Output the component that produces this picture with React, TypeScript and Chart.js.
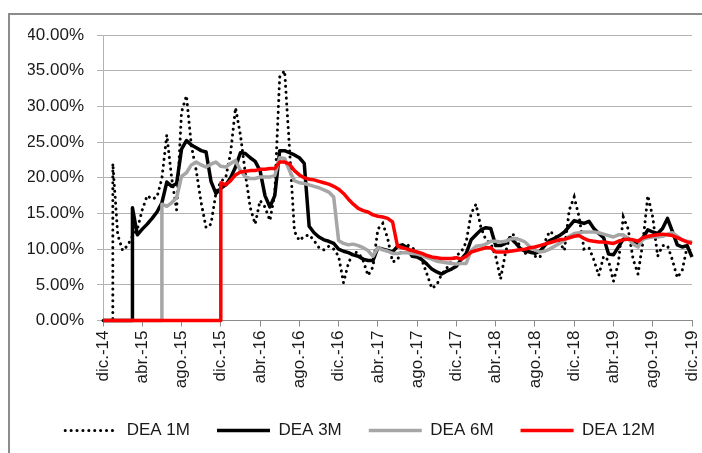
import React, { useEffect, useRef } from 'react';
import { Chart, registerables } from 'chart.js';

Chart.register(...registerables);

// Month index 0 = dic.-14, one tick every 4 months
const xLabels = ['dic.-14', 'abr.-15', 'ago.-15', 'dic.-15', 'abr.-16', 'ago.-16', 'dic.-16', 'abr.-17', 'ago.-17', 'dic.-17', 'abr.-18', 'ago.-18', 'dic.-18', 'abr.-19', 'ago.-19', 'dic.-19'];
const monthsPerTick = 4;
const stepMonths = 0.5;
const seriesNames = ['DEA 1M', 'DEA 3M', 'DEA 6M', 'DEA 12M'];

// First month with data for each series (0% before it)
const start1M = 1;
const start3M = 3;
const start6M = 6;
const start12M = 12;

// Values in %, every half month from the start month
const dea1M = [22.0, 12.0, 9.8, 10.5, 11.8, 12.8, 15.5, 17.5, 17.0, 17.3, 19.9, 26.0, 19.9, 15.5, 29.2, 31.5, 24.5, 21.0, 16.5, 13.0, 13.5, 17.8, 19.5, 20.0, 23.5, 29.8, 26.0, 20.6, 15.8, 13.5, 16.8, 15.9, 14.0, 17.8, 34.1, 35.0, 24.0, 12.5, 11.2, 11.8, 12.0, 11.2, 10.2, 9.9, 10.4, 10.0, 9.0, 5.3, 8.0, 9.6, 9.5, 8.4, 6.3, 7.5, 12.8, 13.6, 11.5, 8.2, 8.5, 10.1, 10.6, 10.2, 9.6, 8.4, 6.5, 4.5, 5.0, 6.5, 7.3, 8.3, 9.1, 9.6, 11.0, 15.0, 16.3, 13.0, 11.3, 10.8, 9.0, 5.8, 9.5, 12.0, 12.0, 10.2, 9.4, 9.6, 9.0, 8.8, 11.0, 12.5, 12.0, 11.0, 9.8, 15.5, 17.3, 14.5, 10.0, 10.2, 8.5, 6.3, 9.0, 8.4, 5.5, 8.0, 14.5, 12.8, 8.6, 6.5, 11.0, 17.5, 14.5, 9.0, 10.5, 10.5, 8.5, 6.0, 7.0, 10.3, 9.8];

const dea3M = [15.8, 12.0, 12.8, 13.5, 14.3, 15.2, 16.5, 19.4, 18.8, 19.2, 24.0, 25.2, 24.6, 24.2, 23.8, 23.6, 19.5, 17.8, 18.5, 19.0, 20.0, 21.5, 23.5, 23.4, 22.8, 22.3, 21.0, 17.5, 15.9, 17.5, 23.8, 23.8, 23.5, 23.2, 22.8, 22.0, 13.2, 12.3, 11.7, 11.3, 11.1, 10.8, 10.0, 9.7, 9.5, 9.2, 9.0, 8.6, 8.4, 8.4, 10.2, 10.0, 9.8, 9.6, 10.4, 10.6, 10.2, 9.0, 8.9, 8.5, 7.9, 7.2, 6.8, 6.5, 6.9, 7.2, 7.6, 8.6, 9.4, 11.3, 12.0, 12.7, 13.0, 12.9, 10.5, 10.5, 10.8, 11.6, 10.9, 10.1, 9.7, 9.6, 9.4, 9.7, 10.5, 11.2, 11.5, 11.9, 12.4, 13.2, 14.0, 13.8, 13.6, 13.9, 12.9, 12.2, 11.6, 9.3, 9.2, 10.3, 11.4, 11.5, 10.9, 10.6, 11.6, 12.7, 12.4, 12.2, 12.9, 14.3, 12.5, 10.6, 10.3, 10.5, 8.9];

const dea6M = [16.3, 16.0, 16.5, 17.2, 20.2, 20.7, 21.8, 22.2, 21.8, 21.5, 21.9, 22.2, 21.6, 21.5, 22.0, 22.4, 21.0, 20.1, 19.9, 19.9, 20.1, 20.1, 20.1, 20.3, 22.8, 22.7, 21.0, 19.6, 19.3, 19.2, 19.0, 18.8, 18.6, 18.3, 18.0, 17.3, 11.2, 10.8, 10.6, 10.7, 10.5, 10.2, 9.8, 9.0, 10.2, 9.9, 9.7, 9.4, 9.4, 9.5, 9.5, 9.4, 9.3, 9.1, 8.8, 8.6, 8.3, 8.2, 8.1, 8.0, 7.9, 8.0, 8.0, 9.8, 10.4, 10.5, 10.7, 11.1, 11.1, 11.0, 11.1, 11.4, 11.5, 11.3, 11.0, 10.3, 9.9, 9.6, 9.7, 10.0, 10.4, 10.8, 11.2, 11.8, 12.2, 12.3, 12.4, 12.4, 12.4, 12.3, 12.1, 11.9, 11.7, 12.0, 12.0, 11.5, 10.7, 10.3, 11.4, 11.6, 11.7, 11.7, 11.8, 12.1, 12.3, 11.8, 11.3, 11.1, 11.0];

const dea12M = [19.3, 19.0, 19.6, 20.4, 20.8, 20.9, 21.0, 21.0, 21.2, 21.2, 21.3, 21.3, 22.2, 22.2, 21.9, 21.0, 20.4, 20.0, 19.8, 19.7, 19.5, 19.3, 19.1, 18.8, 18.4, 17.8, 17.0, 16.3, 15.7, 15.4, 15.2, 14.8, 14.6, 14.5, 14.3, 13.8, 10.4, 10.2, 10.0, 9.8, 9.6, 9.4, 9.1, 8.9, 8.8, 8.7, 8.7, 8.7, 8.8, 8.6, 9.0, 9.6, 9.8, 10.0, 10.2, 10.2, 9.6, 9.6, 9.6, 9.7, 9.8, 9.9, 10.0, 10.2, 10.3, 10.5, 10.7, 10.9, 11.1, 11.3, 11.4, 11.6, 11.8, 11.9, 11.5, 11.2, 11.1, 11.0, 11.0, 10.9, 10.8, 11.1, 11.3, 11.4, 11.3, 11.1, 11.6, 11.8, 11.9, 12.0, 12.1, 12.0, 11.9, 11.6, 11.3, 11.0, 10.8];

function toPoints(start: number, values: number[]) {
  const pts: { x: number; y: number }[] = [
    { x: 0, y: 0 },
    { x: start, y: 0 },
  ];
  values.forEach((v, i) => pts.push({ x: start + i * stepMonths, y: v }));
  return pts;
}

const TEXT = '#1a1a1a';
const FONT = 'Liberation Sans';

export default function App() {
  const ref = useRef<HTMLCanvasElement>(null);

  useEffect(() => {
    if (!ref.current) return;
    const chart = new Chart(ref.current, {
      type: 'line',
      data: {
        datasets: [
          {
            label: seriesNames[0],
            data: toPoints(start1M, dea1M),
            borderColor: '#000000',
            backgroundColor: '#000000',
            borderWidth: 3,
            borderDash: [0.1, 5.8],
            borderCapStyle: 'round',
            pointRadius: 0,
            tension: 0,
            order: 4,
            clip: false,
          },
          {
            label: seriesNames[1],
            data: toPoints(start3M, dea3M),
            borderColor: '#000000',
            backgroundColor: '#000000',
            borderWidth: 3.5,
            borderJoinStyle: 'round',
            pointRadius: 0,
            tension: 0,
            order: 3,
            clip: false,
          },
          {
            label: seriesNames[2],
            data: toPoints(start6M, dea6M),
            borderColor: '#a6a6a6',
            backgroundColor: '#a6a6a6',
            borderWidth: 3.5,
            borderJoinStyle: 'round',
            pointRadius: 0,
            tension: 0,
            order: 2,
            clip: false,
          },
          {
            label: seriesNames[3],
            data: toPoints(start12M, dea12M),
            borderColor: '#ff0000',
            backgroundColor: '#ff0000',
            borderWidth: 3.5,
            borderJoinStyle: 'round',
            pointRadius: 0,
            tension: 0,
            order: 1,
            clip: false,
          },
        ],
      },
      options: {
        animation: false,
        responsive: false,
        devicePixelRatio: 1,
        layout: { padding: { left: 28, right: 10, top: 35, bottom: 4 } },
        plugins: {
          legend: {
            position: 'bottom',
            labels: {
              usePointStyle: true,
              pointStyle: 'line',
              pointStyleWidth: 53,
              padding: 27,
              color: TEXT,
              font: { size: 17, family: FONT },
              generateLabels: (c: any) =>
                c.data.datasets.map((ds: any, i: number) => ({
                  text: ds.label,
                  datasetIndex: i,
                  strokeStyle: ds.borderColor,
                  fillStyle: ds.borderColor,
                  lineWidth: ds.borderWidth,
                  lineDash: ds.borderDash || [],
                  lineCap: ds.borderCapStyle || 'butt',
                  pointStyle: 'line',
                  hidden: false,
                  fontColor: TEXT,
                })),
            },
          },
          tooltip: { enabled: false },
        },
        scales: {
          x: {
            type: 'linear',
            min: 0,
            max: (xLabels.length - 1) * monthsPerTick,
            afterBuildTicks: (s: any) => {
              s.ticks = xLabels.map((_, i) => ({ value: i * monthsPerTick }));
            },
            afterFit: (s: any) => {
              s.height = 74.5;
              s.paddingLeft = 0;
              s.paddingRight = 0;
            },
            ticks: {
              autoSkip: false,
              minRotation: 90,
              maxRotation: 90,
              padding: 4,
              color: TEXT,
              font: { size: 17, family: FONT },
              callback: (v: any) => xLabels[Math.round(Number(v) / monthsPerTick)],
            },
            grid: { drawOnChartArea: false, drawTicks: true, tickLength: 6, color: '#8c8c8c' },
            border: { color: '#8c8c8c', width: 1 },
          },
          y: {
            min: 0,
            max: 40,
            afterBuildTicks: (s: any) => {
              const t = [];
              for (let v = 0; v <= 40; v += 5) t.push({ value: v });
              s.ticks = t;
            },
            afterFit: (s: any) => {
              s.width = 75;
            },
            ticks: {
              padding: 13,
              color: TEXT,
              font: { size: 17, family: FONT },
              callback: (v: any) => Number(v).toFixed(2) + '%',
            },
            grid: { color: '#b3b3b3', tickLength: 6 },
            border: { color: '#b3b3b3', width: 1 },
          },
        },
      },
    } as any);
    return () => chart.destroy();
  }, []);

  return (
    <div style={{ position: 'fixed', left: 0, top: 0, width: 702, height: 453, overflow: 'hidden', background: '#ffffff' }}>
      <div
        style={{
          position: 'absolute',
          left: 8,
          top: 13,
          width: 760,
          height: 520,
          border: '2px solid #8c8c8c',
          boxSizing: 'border-box',
        }}
      />
      <canvas ref={ref} width={702} height={453} style={{ position: 'absolute', left: 0, top: 0, width: 702, height: 453 }} />
    </div>
  );
}
